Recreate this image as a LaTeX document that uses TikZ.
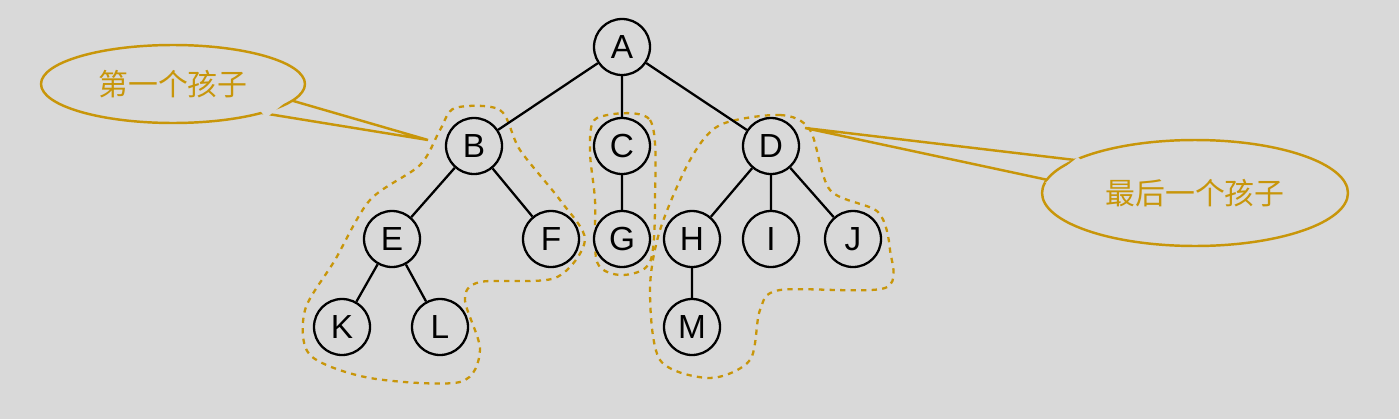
\documentclass[tikz,border=0pt]{standalone}
\usepackage{fontspec}
\newfontfamily\cjk{Noto Sans CJK SC}
\setmainfont{Liberation Sans}
\usetikzlibrary{shapes.geometric}
\definecolor{gold}{HTML}{C8960A}
\definecolor{bgray}{HTML}{D9D9D9}
\tikzset{
    tnode/.style={circle, draw, line width=1.3pt, fill=bgray, minimum size=1.12cm, inner sep=0pt, font=\fontsize{19}{19}\selectfont},
    blob/.style={gold, line width=1.3pt, dashed},
    callout/.style={gold, line width=1.4pt, fill=bgray},
}
\begin{document}
\begin{tikzpicture}[x=0.02cm, y=-0.02cm]
    \fill[bgray] (0,0) rectangle (1399,419);
    \useasboundingbox (0,0) rectangle (1399,419);

    % subtrees
    \draw[blob] plot[smooth cycle] coordinates {(455,108) (500,110) (520,150) (560,200) (585,240) (555,278) (480,282) (465,300) (480,350) (460,382) (370,378) (310,355) (305,310) (335,260) (370,200) (420,165) (440,130)};
    \draw[blob] plot[smooth cycle] coordinates {(597,118) (650,120) (655,200) (650,262) (622,275) (597,262) (595,200) (590,150)};
    \draw[blob] plot[smooth cycle] coordinates {(720,125) (780,115) (810,130) (830,190) (878,212) (890,250) (885,288) (780,290) (760,310) (750,360) (710,378) (660,360) (650,290) (660,230) (690,160)};

    \node[tnode] (A) at (622,47) {A};
    \node[tnode] (B) at (474,146) {B};
    \node[tnode] (C) at (622,146) {C};
    \node[tnode] (D) at (771,146) {D};
    \node[tnode] (E) at (392,239) {E};
    \node[tnode] (F) at (551,239) {F};
    \node[tnode] (G) at (622,239) {G};
    \node[tnode] (H) at (692,239) {H};
    \node[tnode] (I) at (771,239) {I};
    \node[tnode] (J) at (853,239) {J};
    \node[tnode] (K) at (342,327) {K};
    \node[tnode] (L) at (440,327) {L};
    \node[tnode] (M) at (692,327) {M};

    \draw[line width=1.3pt] (A) -- (B) (A) -- (C) (A) -- (D)
          (B) -- (E) (B) -- (F) (C) -- (G)
          (D) -- (H) (D) -- (I) (D) -- (J)
          (E) -- (K) (E) -- (L) (H) -- (M);

    % callouts
    \coordinate (tipB) at (428,140);
    \coordinate (tipD) at (805,128);
    \draw[callout] (290,100) -- (tipB) -- (262,113);
    \node[callout, draw, ellipse, minimum width=5.28cm, minimum height=1.56cm] (first) at (173,84) {};
    \fill[bgray] (255,104) -- (292,97) -- (266,118) -- cycle;
    \node[gold, font=\cjk\fontsize{17}{17}\selectfont] at (first) {第一个孩子};

    \draw[callout] (1075,160) -- (tipD) -- (1048,180);
    \node[callout, draw, ellipse, minimum width=6.12cm, minimum height=2.12cm] (last) at (1195,193) {};
    \fill[bgray] (1045,183) -- (1078,157) -- (1090,170) -- cycle;
    \node[gold, font=\cjk\fontsize{17}{17}\selectfont] at (last) {最后一个孩子};
\end{tikzpicture}
\end{document}
